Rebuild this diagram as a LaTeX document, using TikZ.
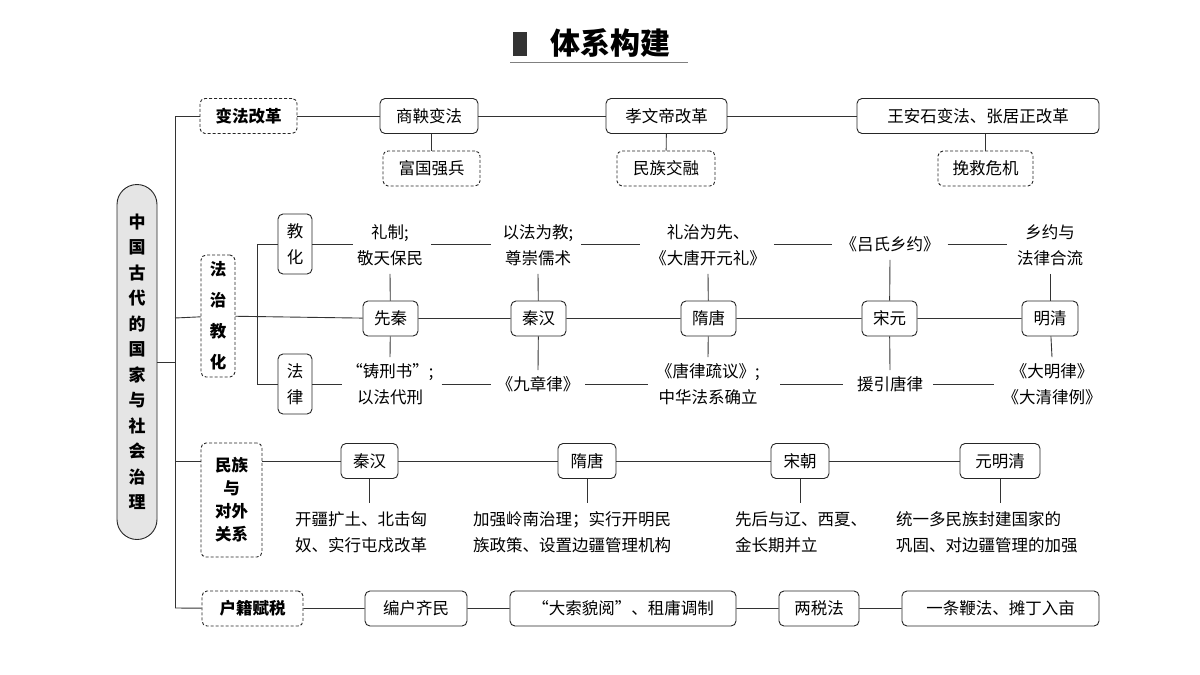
\documentclass[tikz,border=0pt]{standalone}
\usepackage{fontspec}
\setmainfont{Noto Sans CJK SC}
\newfontfamily\cjk{Noto Sans CJK SC}
\begin{document}
\begin{tikzpicture}[x=1pt,y=-1pt,
  every node/.style={font=\cjk\fontsize{16.5}{26}\selectfont, inner sep=2pt},
  ln/.style={draw=black!80, line width=0.9pt},
  sbox/.style={draw=black!85, line width=0.9pt, rounded corners=5pt, minimum height=35pt, inner sep=3pt, fill=white},
  dbox/.style={draw=black!85, line width=0.9pt, dashed, dash pattern=on 3pt off 2pt, rounded corners=5pt, minimum height=35pt, inner sep=3pt, fill=white, font=\cjk\bfseries\fontsize{16.5}{26}\selectfont},
  vbox/.style={dbox, align=center, font=\cjk\bfseries\fontsize{16.5}{30}\selectfont},
  txt/.style={align=center, inner sep=4pt}]
\useasboundingbox (0,0) rectangle (1200,675);
% title
\fill[black!80] (513,32) rectangle (527,56);
\node[font=\cjk\bfseries\fontsize{30}{32}\selectfont] (title) at (610,43) {体系构建};
\draw[black!50, line width=0.8pt] (510,62) -- (688,62);
% main box
\node[draw=black!85, line width=0.9pt, fill=black!10, rounded corners=20pt, minimum width=40pt, minimum height=355pt, align=center, font=\cjk\bfseries\fontsize{17}{25.5}\selectfont] (main) at (137,362) {中\\国\\古\\代\\的\\国\\家\\与\\社\\会\\治\\理};
\coordinate (t0) at (175,116);
\coordinate (t1) at (175,318);
\coordinate (t2) at (175,461);
\coordinate (t3) at (175,608);
\draw[ln] (main.east |- 0,362) -- (175,362);
\draw[ln] (t0) -- (t3);
% row 1
\node[dbox, minimum width=97] (r1) at (248.5,116) {变法改革};
\node[sbox, minimum width=98] (a1) at (429,116) {商鞅变法};
\node[sbox, minimum width=121] (a2) at (666.5,116) {孝文帝改革};
\node[sbox, minimum width=242] (a3) at (978,116) {王安石变法、张居正改革};
\node[dbox, font=\cjk\fontsize{16.5}{26}\selectfont, minimum width=97] (b1) at (431.5,168.5) {富国强兵};
\node[dbox, font=\cjk\fontsize{16.5}{26}\selectfont, minimum width=98] (b2) at (666,168.5) {民族交融};
\node[dbox, font=\cjk\fontsize{16.5}{26}\selectfont, minimum width=95] (b3) at (985.5,168.5) {挽救危机};
\draw[ln] (t0) -- (r1) -- (a1) -- (a2) -- (a3);
\draw[ln] (a1.south -| b1) -- (b1);
\draw[ln] (a2) -- (b2);
\draw[ln] (a3.south -| b3) -- (b3);
% row 2
\node[vbox, minimum width=34, minimum height=122, font=\cjk\bfseries\fontsize{16.5}{31}\selectfont] (r2) at (218,316) {法\\治\\教\\化};
\node[sbox, minimum width=34, minimum height=60, align=center, font=\cjk\fontsize{16.5}{26}\selectfont] (jh) at (295,244) {教\\化};
\node[sbox, minimum width=34, minimum height=60, align=center, font=\cjk\fontsize{16.5}{26}\selectfont] (fl) at (295,384) {法\\律};
\coordinate (s0) at (257,244);
\coordinate (s1) at (257,384);
\node[sbox, minimum width=55] (e1) at (390.5,318.5) {先秦};
\node[sbox, minimum width=55] (e2) at (538.5,318.5) {秦汉};
\node[sbox, minimum width=55] (e3) at (708.5,318.5) {隋唐};
\node[sbox, minimum width=55] (e4) at (889.5,318.5) {宋元};
\node[sbox, minimum width=56] (e5) at (1050,318.5) {明清};
\draw[ln] (t1) -- (r2) -- (e1) -- (e2) -- (e3) -- (e4) -- (e5);
\draw[ln] (s0) -- (s1);
\draw[ln] (s0) -- (jh); \draw[ln] (s1) -- (fl);
\node[txt] (u1) at (390,245) {礼制;\\敬天保民};
\node[txt] (u2) at (538,245) {以法为教;\\尊崇儒术};
\node[txt] (u3) at (708,245) {礼治为先、\\《大唐开元礼》};
\node[txt] (u4) at (890,244) {《吕氏乡约》};
\node[txt] (u5) at (1050,245) {乡约与\\法律合流};
\node[txt] (d1) at (390,384) {“铸刑书”;\\以法代刑};
\node[txt] (d2) at (538,384) {《九章律》};
\node[txt] (d3) at (708,384) {《唐律疏议》;\\中华法系确立};
\node[txt] (d4) at (890,384) {援引唐律};
\node[txt] (d5) at (1052,384) {《大明律》\\《大清律例》};
\draw[ln] (jh) -- (u1.west |- jh);
\draw[ln] (fl) -- (d1.west |- fl);
\draw[ln] ([xshift=4]u1.east |- s0) -- ([xshift=-8]u2.west |- s0);
\draw[ln] ([xshift=4]u2.east |- s0) -- ([xshift=-6]u3.west |- s0);
\draw[ln] ([xshift=4]u3.east |- s0) -- ([xshift=-4]u4.west |- s0);
\draw[ln] ([xshift=4]u4.east |- s0) -- ([xshift=-6]u5.west |- s0);
\draw[ln] ([xshift=4]d1.east |- s1) -- ([xshift=-2]d2.west |- s1);
\draw[ln] ([xshift=2]d2.east |- s1) -- ([xshift=-4]d3.west |- s1);
\draw[ln] ([xshift=16]d3.east |- s1) -- ([xshift=-10]d4.west |- s1);
\draw[ln] ([xshift=6]d4.east |- s1) -- ([xshift=-4]d5.west |- s1);
\foreach \i in {1,...,5}{
  \draw[ln] ([yshift=-4]u\i.south) -- (e\i);
  \draw[ln] (e\i) -- ([yshift=2]d\i.north);
}
% row 3
\node[vbox, minimum width=61, minimum height=114, font=\cjk\bfseries\fontsize{16.5}{23}\selectfont] (r3) at (231.5,500) {民族\\与\\对外\\关系};
\node[sbox, minimum width=57] (m1) at (369.5,461) {秦汉};
\node[sbox, minimum width=58] (m2) at (587,461) {隋唐};
\node[sbox, minimum width=58] (m3) at (800,461) {宋朝};
\node[sbox, minimum width=80] (m4) at (1000,461) {元明清};
\draw[ln] (t2) -- (r3.west |- t2);
\draw[ln] (r3.east |- t2) -- (m1) -- (m2) -- (m3) -- (m4);
\node[txt, align=left, anchor=north west, inner sep=0pt] (n1) at (295,511) {开疆扩土、北击匈\\奴、实行屯戍改革};
\node[txt, align=left, anchor=north west, inner sep=0pt] (n2) at (473,511) {加强岭南治理；实行开明民\\族政策、设置边疆管理机构};
\node[txt, align=left, anchor=north west, inner sep=0pt] (n3) at (735,511) {先后与辽、西夏、\\金长期并立};
\node[txt, align=left, anchor=north west, inner sep=0pt] (n4) at (896,511) {统一多民族封建国家的\\巩固、对边疆管理的加强};
\draw[ln] (m1) -- (m1 |- 0,503);
\draw[ln] (m2) -- (m2 |- 0,503);
\draw[ln] (m3) -- (m3 |- 0,503);
\draw[ln] (m4) -- (m4 |- 0,503);
% row 4
\node[dbox, minimum width=101] (r4) at (252.5,608.5) {户籍赋税};
\node[sbox, minimum width=102] (h1) at (416,608.5) {编户齐民};
\node[sbox, minimum width=226] (h2) at (623,608.5) {“大索貌阅”、租庸调制};
\node[sbox, minimum width=80] (h3) at (819,608.5) {两税法};
\node[sbox, minimum width=197] (h4) at (1000.5,608.5) {一条鞭法、摊丁入亩};
\draw[ln] (t3) -- (r4) -- (h1) -- (h2) -- (h3) -- (h4);
\end{tikzpicture}
\end{document}
